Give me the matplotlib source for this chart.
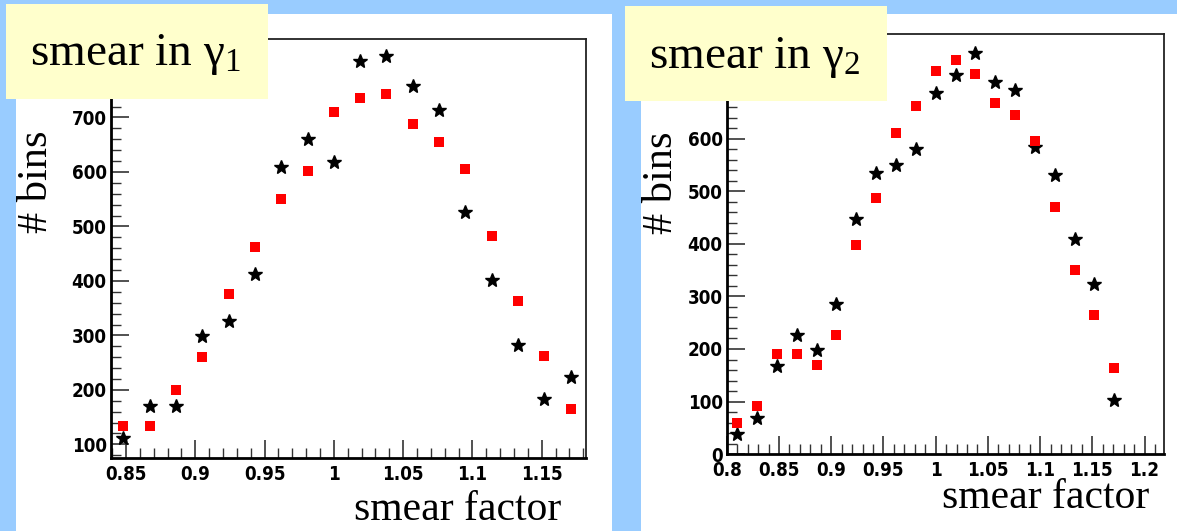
import matplotlib
matplotlib.use('Agg')
import matplotlib.pyplot as plt
from matplotlib.patches import Rectangle
from matplotlib.ticker import MultipleLocator, FixedLocator, FormatStrFormatter

#----------------  data  -----------------------------------------

# smear in gamma 1 (18 bins)
x_g1 = [0.848, 0.867, 0.886, 0.905, 0.924, 0.943, 0.962, 0.981, 1.0,
        1.019, 1.038, 1.057, 1.076, 1.095, 1.114, 1.133, 1.152, 1.171]
black_g1 = [112, 170, 170, 298, 326, 412, 610, 661, 619,
            804, 812, 757, 714, 526, 401, 283, 184, 224]
red_g1 = [133, 133, 200, 260, 376, 463, 551, 602, 710,
          735, 743, 688, 655, 606, 482, 363, 263, 164]

# smear in gamma 2 (20 bins)
x_g2 = [0.81, 0.829, 0.848, 0.867, 0.886, 0.905, 0.924, 0.943, 0.962, 0.981,
        1.0, 1.019, 1.038, 1.057, 1.076, 1.095, 1.114, 1.133, 1.152, 1.171]
black_g2 = [39, 68, 167, 226, 198, 285, 448, 536, 551, 581,
            687, 721, 764, 708, 694, 584, 531, 410, 323, 103]
red_g2 = [60, 91, 190, 190, 169, 227, 399, 487, 612, 662,
          729, 751, 724, 669, 645, 597, 470, 351, 264, 163]

# visible labelled y ticks (the rest sit under the yellow boxes)
yticks_g1 = [100, 200, 300, 400, 500, 600, 700]
yticks_g2 = [0, 100, 200, 300, 400, 500, 600]

titles = [r'smear in $\mathrm{\gamma}_{1}$', r'smear in $\mathrm{\gamma}_{2}$']
xlabel = 'smear factor'
ylabel = '# bins'

#----------------  style  --------------------

plt.rcParams['mathtext.fontset'] = 'custom'
plt.rcParams['mathtext.rm'] = 'Liberation Serif'
plt.rcParams['mathtext.it'] = 'Liberation Serif:italic'

serif = 'Liberation Serif'

fig = plt.figure(figsize=(11.77, 5.31), dpi=100, facecolor='#99ccff')

# white slide panels
for rect in [(0.0136, 0.0, 0.5064, 0.9736), (0.5446, 0.0, 0.4554, 0.9736)]:
    fig.add_artist(Rectangle(rect[:2], rect[2], rect[3], transform=fig.transFigure,
                             facecolor='white', edgecolor='none', zorder=-1))

ax1 = fig.add_axes([0.0941, 0.1375, 0.4038, 0.789])
ax2 = fig.add_axes([0.6175, 0.145, 0.3718, 0.791])

panels = [(ax1, x_g1, black_g1, red_g1, (0.839, 1.182), (75, 844), yticks_g1),
          (ax2, x_g2, black_g2, red_g2, (0.8, 1.219), (0, 800), yticks_g2)]

for ax, xs, blk, red, xl, yl, yt in panels:
    ax.plot(xs, blk, linestyle='none', marker='*', ms=10, color='black', zorder=3)
    ax.plot(xs, red, linestyle='none', marker='s', ms=6.5, color='red',
            markeredgewidth=0, zorder=4)
    ax.set_xlim(*xl)
    ax.set_ylim(*yl)
    ax.xaxis.set_major_locator(MultipleLocator(0.05))
    ax.xaxis.set_minor_locator(MultipleLocator(0.01))
    ax.yaxis.set_major_locator(FixedLocator(yt))
    ax.yaxis.set_minor_locator(MultipleLocator(20))
    ax.xaxis.set_major_formatter(FormatStrFormatter('%g'))
    ax.yaxis.set_major_formatter(FormatStrFormatter('%g'))
    ax.tick_params(which='major', direction='in', length=13, width=1.2, color='#333333')
    ax.tick_params(which='minor', direction='in', length=7, width=1.0, color='#333333')
    ax.tick_params(axis='y', which='major', pad=3)
    ax.tick_params(axis='x', which='major', pad=5)
    for lab in ax.get_xticklabels() + ax.get_yticklabels():
        lab.set_fontfamily('DejaVu Sans')
        lab.set_fontstretch('condensed')
        lab.set_fontweight('bold')
        lab.set_fontsize(13.5)
    for s in ['left', 'bottom']:
        ax.spines[s].set_linewidth(2)
    for s in ['top', 'right']:
        ax.spines[s].set_linewidth(1.3)
        ax.spines[s].set_color('#222222')

# yellow title boxes
for rect in [(0.0051, 0.8136, 0.2226, 0.1789), (0.5306, 0.8105, 0.223, 0.178)]:
    fig.add_artist(Rectangle(rect[:2], rect[2], rect[3], transform=fig.transFigure,
                             facecolor='#ffffcc', edgecolor='none', zorder=2))

fig.text(0.0255, 0.8776, titles[0], fontsize=34, family=serif, va='baseline', zorder=5)
fig.text(0.5514, 0.8725, titles[1], fontsize=34, family=serif, va='baseline', zorder=5)

fig.text(0.4766, 0.0207, xlabel, fontsize=30, family=serif, ha='right', va='baseline')
fig.text(0.9762, 0.0433, xlabel, fontsize=30, family=serif, ha='right', va='baseline')

fig.text(0.0311, 0.657, ylabel, fontsize=30.5, family=serif, rotation=90,
         ha='center', va='center')
fig.text(0.5624, 0.655, ylabel, fontsize=30.5, family=serif, rotation=90,
         ha='center', va='center')

fig.savefig('out.png', dpi=100, facecolor=fig.get_facecolor())
